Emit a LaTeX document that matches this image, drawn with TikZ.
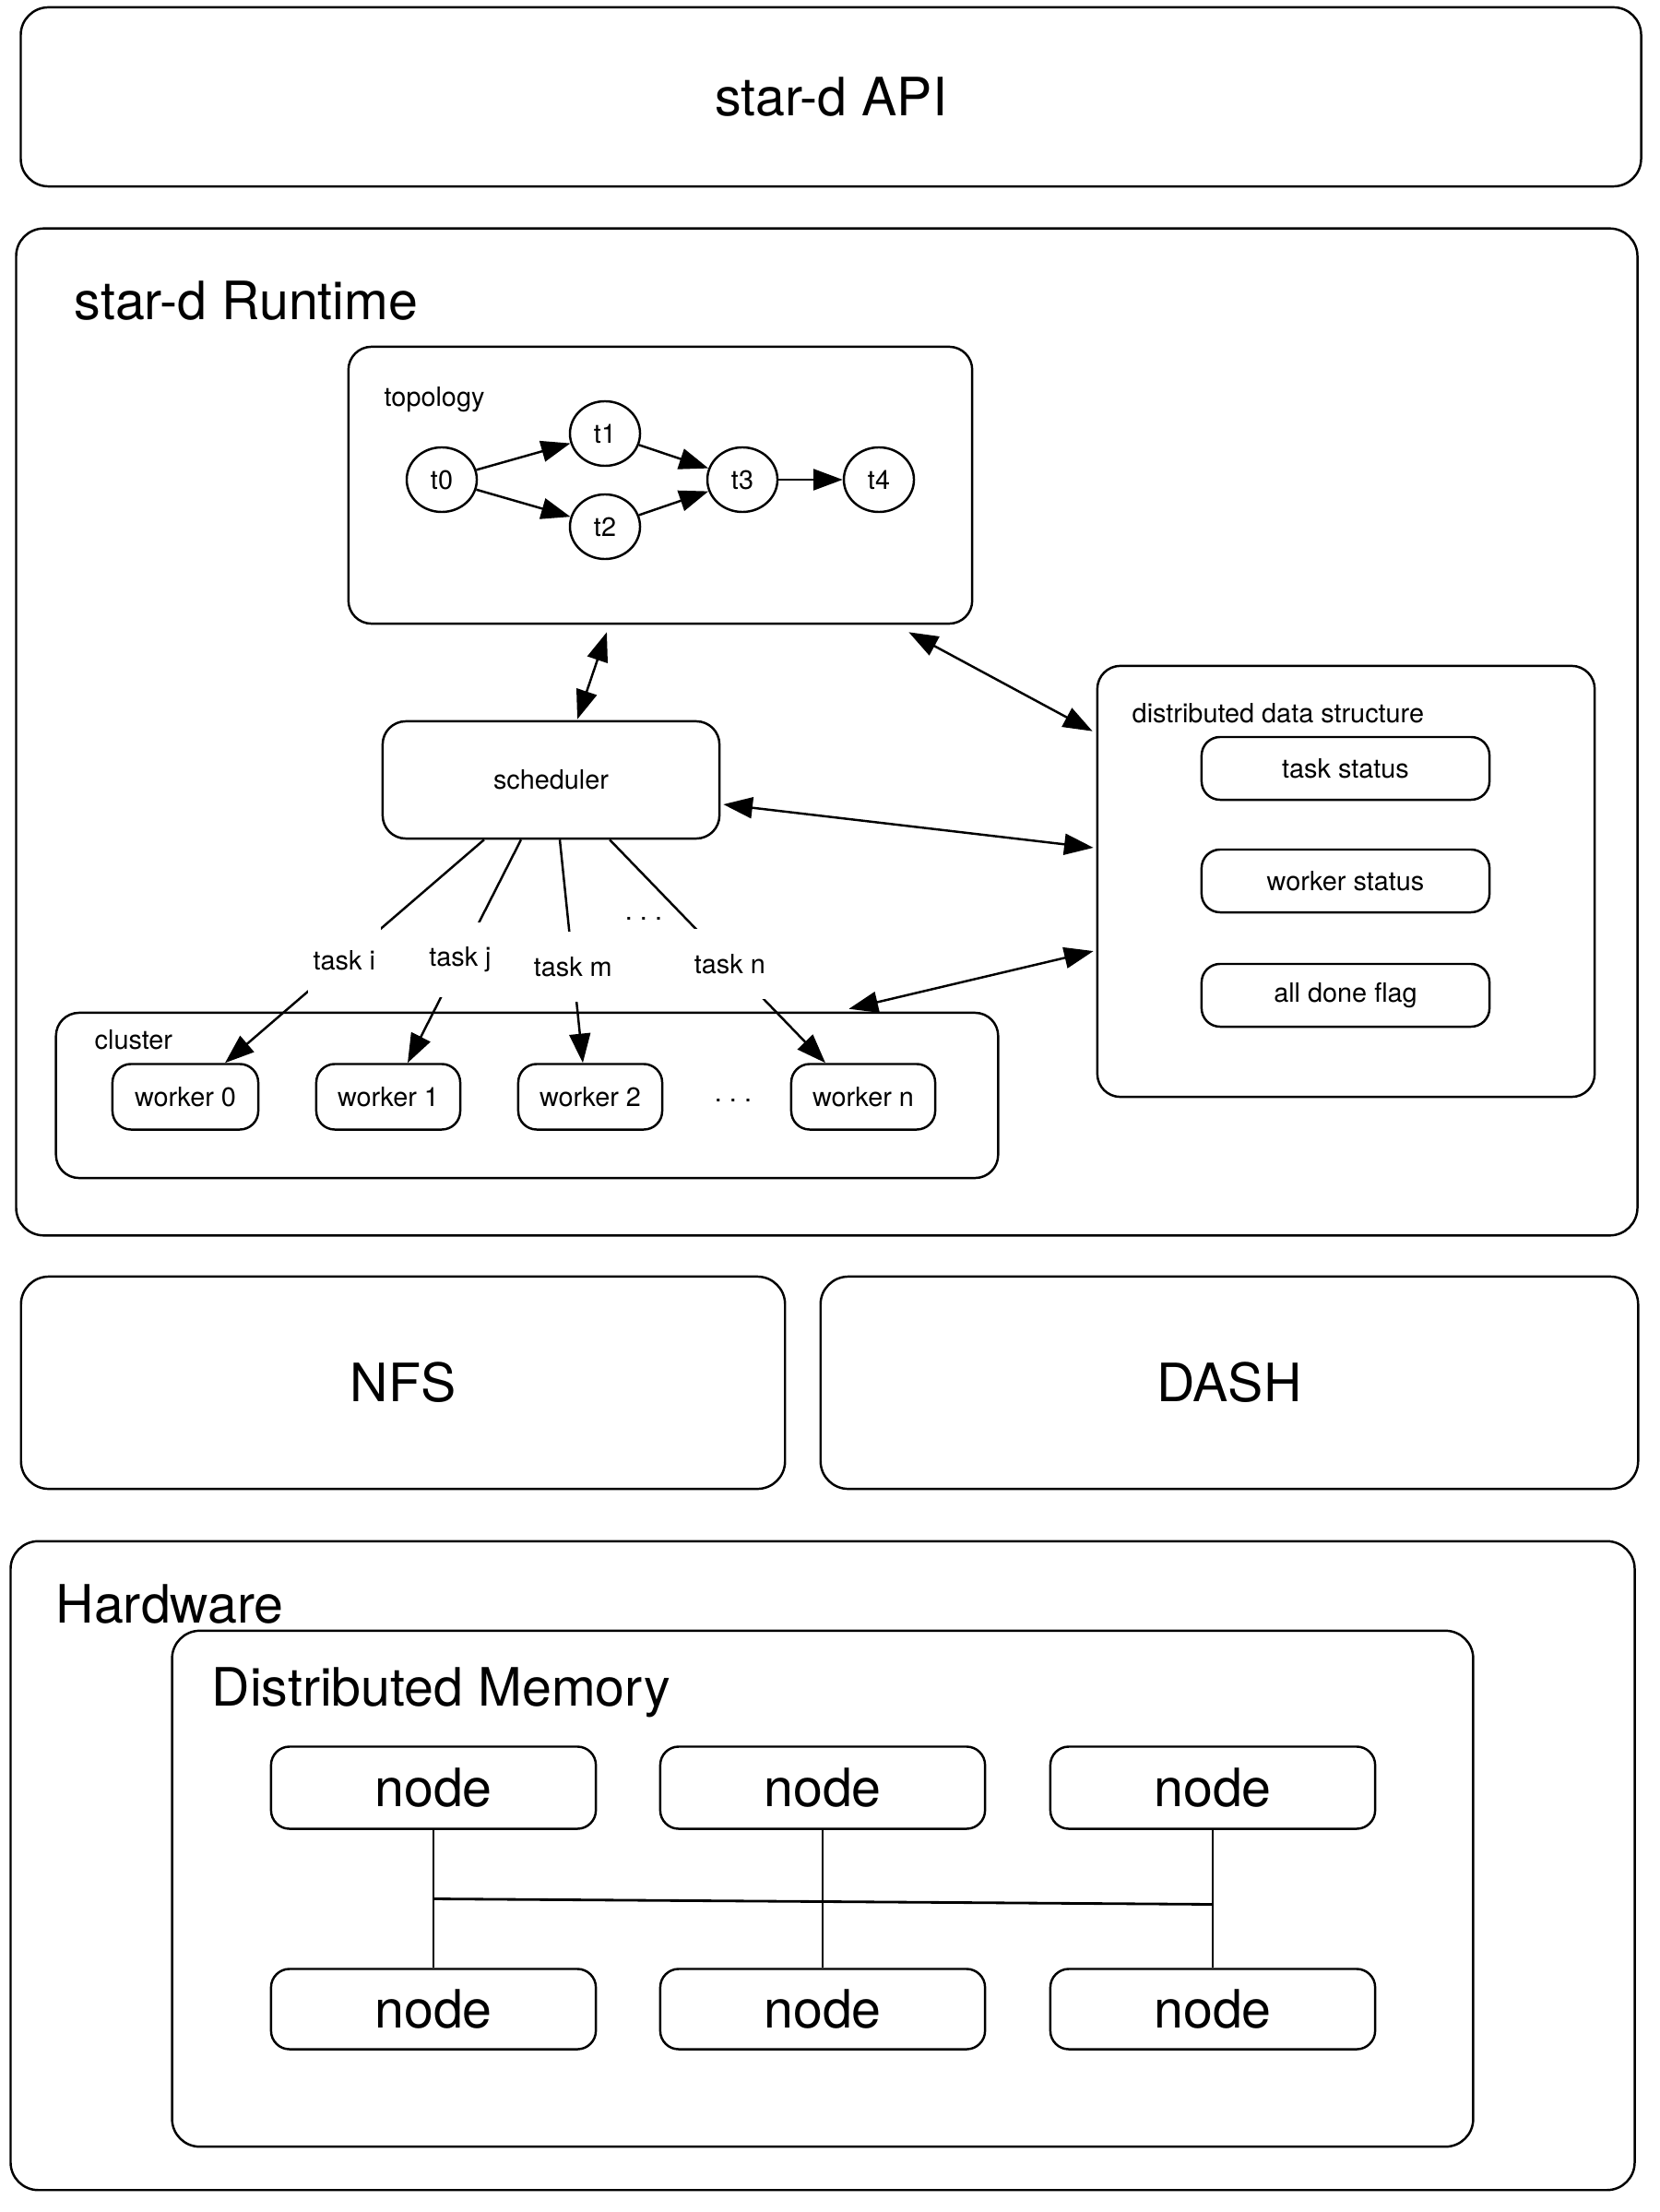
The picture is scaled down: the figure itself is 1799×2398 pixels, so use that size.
\documentclass[tikz,border=0pt]{standalone}
\usepackage{fontspec}
\setmainfont{TeX Gyre Heros}
\usepackage{tikz}
\usetikzlibrary{arrows.meta,shapes.geometric,calc,positioning}
\newcommand{\bigfont}{\fontsize{16.3}{19}\selectfont}
\newcommand{\smallfont}{\fontsize{8.2}{10}\selectfont}
\newcommand{\spaceddots}{.\hspace{0.28em}.\hspace{0.28em}.}
\tikzstyle{layerbox} = [draw=black, line width=0.7pt, rectangle, rounded corners=0.3cm,
    inner sep=0pt, font=\bigfont]
\tikzstyle{partbox} = [draw=black, line width=0.7pt, rectangle, rounded corners=0.25cm,
    inner sep=0pt, font=\smallfont]
\tikzstyle{cellbox} = [draw=black, line width=0.7pt, rectangle, rounded corners=0.2cm, inner sep=0pt]
\tikzstyle{tasknode} = [draw=black, line width=0.7pt, ellipse, minimum width=0.76cm,
    minimum height=0.70cm, inner sep=0pt, font=\smallfont]
\tikzstyle{boxtitle} = [anchor=west, inner sep=0pt]
\tikzstyle{flowarrow} = [-{Triangle[length=9pt, width=6.5pt]}, line width=0.7pt]
\tikzstyle{syncarrow} = [{Triangle[length=9pt, width=6.5pt]}-{Triangle[length=9pt, width=6.5pt]},
    line width=0.7pt]
\tikzstyle{tasklabel} = [fill=white, font=\smallfont, inner xsep=0.06cm, inner ysep=0.27cm]

\begin{document}
\begin{tikzpicture}[x=0.01cm, y=-0.01cm]
    \useasboundingbox (0,0) rectangle (1799,2398);

    \node[layerbox, minimum width=17.56cm, minimum height=1.94cm] (api) at (901,105) {star-d API};

    \node[layerbox, minimum width=17.57cm, minimum height=10.91cm] (runtime) at (896.5,793.5) {};
    \node[boxtitle, font=\bigfont] (runtimetitle) at (80,326) {star-d Runtime};

    % topology
    \node[partbox, minimum width=6.76cm, minimum height=3.00cm] (topo) at (716,526) {};
    \node[boxtitle, font=\smallfont] (topotitle) at (416,433) {topology};
    \node[tasknode] (t0) at (479,520) {t0};
    \node[tasknode] (t1) at (656,470) {t1};
    \node[tasknode] (t2) at (656,571) {t2};
    \node[tasknode] (t3) at (805,520) {t3};
    \node[tasknode] (t4) at (953,520) {t4};
    \draw[flowarrow] (t0) -- (t1);
    \draw[flowarrow] (t0) -- (t2);
    \draw[flowarrow] (t1) -- (t3);
    \draw[flowarrow] (t2) -- (t3);
    \draw[flowarrow] (t3) -- (t4);

    \node[partbox, minimum width=3.65cm, minimum height=1.27cm] (sched) at (597.5,845.5) {scheduler};

    % distributed data structure
    \node[partbox, minimum width=5.39cm, minimum height=4.67cm] (dds) at (1459.5,955.5) {};
    \node[boxtitle, font=\smallfont] (ddstitle) at (1227,773) {distributed data structure};
    \node[cellbox, font=\smallfont, minimum width=3.12cm, minimum height=0.68cm] (taskst) at (1459,833) {task status};
    \node[cellbox, font=\smallfont, minimum width=3.12cm, minimum height=0.68cm] (workerst) at (1459,955) {worker status};
    \node[cellbox, font=\smallfont, minimum width=3.12cm, minimum height=0.68cm] (doneflag) at (1459,1079) {all done flag};

    % cluster
    \node[partbox, minimum width=10.21cm, minimum height=1.79cm] (cluster) at (571.5,1187.5) {};
    \node[boxtitle, font=\smallfont] (clustertitle) at (102,1127) {cluster};
    \node[cellbox, font=\smallfont, minimum width=1.58cm, minimum height=0.71cm] (w0) at (201,1189) {worker 0};
    \node[cellbox, font=\smallfont, minimum width=1.56cm, minimum height=0.71cm] (w1) at (421,1189) {worker 1};
    \node[cellbox, font=\smallfont, minimum width=1.56cm, minimum height=0.71cm] (w2) at (640,1189) {worker 2};
    \node[font=\smallfont] (wdots) at (795,1193) {\spaceddots};
    \node[cellbox, font=\smallfont, minimum width=1.56cm, minimum height=0.71cm] (wn) at (936,1189) {worker n};

    \draw[flowarrow] ([xshift=-0.725cm]sched.south) -- node[tasklabel, pos=0.54] (ti) {task i} ([xshift=0.43cm]w0.north);
    \draw[flowarrow] ([xshift=-0.325cm]sched.south) -- node[tasklabel, pos=0.537] (tj) {task j} ([xshift=0.21cm]w1.north);
    \draw[flowarrow] ([xshift=0.095cm]sched.south) -- node[tasklabel, pos=0.57] (tm) {task m} ([xshift=-0.08cm]w2.north);
    \draw[flowarrow] ([xshift=0.635cm]sched.south) -- node[tasklabel, pos=0.557] (tn) {task n} ([xshift=-0.41cm]wn.north);
    \node[font=\smallfont] (tdots) at (698,996) {\spaceddots};

    \draw[syncarrow] ([xshift=-0.58cm, yshift=-0.08cm]topo.south) -- ([xshift=0.285cm, yshift=0.01cm]sched.north);
    \draw[syncarrow] ([xshift=-0.7cm, yshift=-0.08cm]topo.south east) -- ([xshift=-0.04cm, yshift=-0.72cm]dds.north west);
    \draw[syncarrow] ([xshift=0.03cm, yshift=-0.265cm]sched.east) -- ([xshift=-0.03cm, yshift=0.365cm]dds.west);
    \draw[syncarrow] ([xshift=-1.63cm, yshift=0.03cm]cluster.north east) -- ([xshift=-0.03cm, yshift=-0.755cm]dds.west);

    \node[layerbox, minimum width=8.28cm, minimum height=2.30cm] (nfs) at (437,1499) {NFS};
    \node[layerbox, minimum width=8.86cm, minimum height=2.30cm] (dash) at (1333,1499) {DASH};

    % hardware
    \node[layerbox, minimum width=17.60cm, minimum height=7.03cm] (hw) at (892,2022.5) {};
    \node[boxtitle, font=\bigfont] (hwtitle) at (60,1739) {Hardware};
    \node[layerbox, minimum width=14.10cm, minimum height=5.59cm] (dmem) at (892,2047.5) {};
    \node[boxtitle, font=\bigfont] (dmemtitle) at (229,1835) {Distributed Memory};
    \node[cellbox, font=\bigfont, minimum width=3.52cm, minimum height=0.89cm] (m1) at (470,1938) {node};
    \node[cellbox, font=\bigfont, minimum width=3.52cm, minimum height=0.89cm] (m2) at (892,1938) {node};
    \node[cellbox, font=\bigfont, minimum width=3.52cm, minimum height=0.89cm] (m3) at (1315,1938) {node};
    \node[cellbox, font=\bigfont, minimum width=3.52cm, minimum height=0.87cm] (m4) at (470,2178) {node};
    \node[cellbox, font=\bigfont, minimum width=3.52cm, minimum height=0.87cm] (m5) at (892,2178) {node};
    \node[cellbox, font=\bigfont, minimum width=3.52cm, minimum height=0.87cm] (m6) at (1315,2178) {node};
    \draw[line width=0.5pt] (m1) -- (m4);
    \draw[line width=0.5pt] (m2) -- (m5);
    \draw[line width=0.5pt] (m3) -- (m6);
    \coordinate (busl) at ($(m1.south)!0.5!(m4.north)$);
    \coordinate (busr) at ($(m3.south)!0.54!(m6.north)$);
    \draw[line width=0.8pt] (busl) -- (busr);
\end{tikzpicture}
\end{document}
